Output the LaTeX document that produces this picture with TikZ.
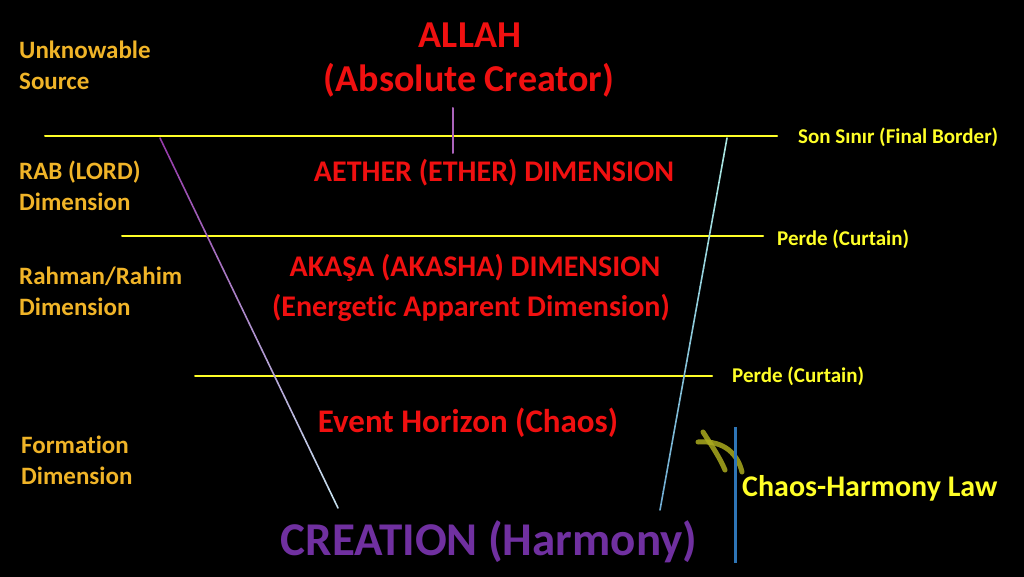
\documentclass[tikz,border=0pt]{standalone}
\usepackage{fontspec}
\setmainfont{Carlito}[Ligatures=NoCommon]
\usepackage{tikz}
\usetikzlibrary{calc}

\definecolor{allahred}{RGB}{240,16,16}
\definecolor{creapurple}{RGB}{112,48,160}
\definecolor{dimgold}{RGB}{240,180,40}
\definecolor{borderyellow}{RGB}{255,255,40}
\definecolor{lawblue}{RGB}{46,117,182}
\definecolor{squiggle}{RGB}{170,170,30}
\definecolor{topviolet}{RGB}{150,60,170}
\definecolor{paleblue}{RGB}{200,230,240}
\definecolor{deepcyan}{RGB}{110,170,210}
\definecolor{palecyan}{RGB}{170,230,225}

\tikzset{
  side/.style={text=dimgold, font=\bfseries\fontsize{25}{31}\selectfont, align=left, anchor=west, inner sep=0pt},
  dimtext/.style={text=allahred, font=\bfseries\fontsize{30}{44}\selectfont, inner sep=0pt},
  bordertext/.style={text=borderyellow, font=\bfseries\fontsize{21}{24}\selectfont, anchor=west, inner sep=0pt},
  border/.style={borderyellow, line width=2pt}
}

\begin{document}
\begin{tikzpicture}[x=1pt,y=-1pt,line cap=round]
    \fill[black] (0,0) rectangle (1024,577);
    \useasboundingbox (0,0) rectangle (1024,577);

    % borders
    \coordinate (b0l) at (45,136);
    \coordinate (b0r) at (777,136);
    \coordinate (b1l) at (122,236);
    \coordinate (b1r) at (763,236);
    \coordinate (b2l) at (195,376);
    \coordinate (b2r) at (712,376);
    \coordinate (top) at (453,108);
    \coordinate (topend) at (453,153);
    \coordinate (lt) at (160,138);
    \coordinate (lb) at (338,508);
    \coordinate (rt) at (727,138);
    \coordinate (rb) at (660,510);
    \coordinate (law) at (735,427);
    \coordinate (lawend) at (735,563);

    \node[text=allahred, font=\bfseries\fontsize{38}{40}\selectfont] (allah) at (470,35) {ALLAH};
    \node[text=allahred, font=\bfseries\fontsize{38}{40}\selectfont] (creator) at (469,80) {(Absolute Creator)};

    \node[side] (source) at (19,65.5) {Unknowable\\Source};
    \node[side] (rab) at (19,186) {RAB (LORD)\\Dimension};
    \node[side] (rahman) at (19,291) {Rahman/Rahim\\Dimension};
    \node[side] (formation) at (21,460) {Formation\\Dimension};

    \draw[border] (b0l) -- (b0r);
    \draw[border] (b1l) -- (b1r);
    \draw[border] (b2l) -- (b2r);
    \node[bordertext] (final) at (798,137) {Son Sınır (Final Border)};
    \node[bordertext] (curtain1) at (777,239) {Perde (Curtain)};
    \node[bordertext] (curtain2) at (732,376) {Perde (Curtain)};

    \draw[topviolet!80!white, line width=2pt] (top) -- (topend);

    % the two walls of the funnel
    \foreach \i in {0,...,19}{
      \pgfmathsetmacro{\a}{\i/20}
      \pgfmathsetmacro{\b}{(\i+1)/20}
      \pgfmathsetmacro{\m}{100-5*\i}
      \draw[line width=1.6pt, color=topviolet!\m!paleblue] ($(lt)!\a!(lb)$) -- ($(lt)!\b!(lb)$);
      \draw[line width=1.6pt, color=palecyan!\m!deepcyan] ($(rt)!\a!(rb)$) -- ($(rt)!\b!(rb)$);
    }

    \node[dimtext] (aether) at (494,173) {AETHER (ETHER) DIMENSION};
    \node[dimtext] (akasa) at (475,268) {AKAŞA (AKASHA) DIMENSION};
    \node[dimtext] (energetic) at (471,308) {(Energetic Apparent Dimension)};
    \node[dimtext, font=\bfseries\fontsize{33}{44}\selectfont] (event) at (468,423) {Event Horizon (Chaos)};

    \node[text=creapurple, font=\bfseries\fontsize{47}{50}\selectfont] (creation) at (489,542) {CREATION (Harmony)};

    % chaos-harmony law
    \draw[squiggle, line width=5pt, opacity=0.85] (703,432) .. controls (712,446) and (720,458) .. (725,470);
    \draw[squiggle, line width=5pt, opacity=0.85] (698,442) .. controls (725,440) and (738,455) .. (742,472);
    \draw[lawblue, line width=3pt, line cap=butt] (law) -- (lawend);
    \node[text=borderyellow, font=\bfseries\fontsize{30}{32}\selectfont, anchor=west, inner sep=0pt] (lawtext) at (742,488) {Chaos-Harmony Law};
\end{tikzpicture}
\end{document}
